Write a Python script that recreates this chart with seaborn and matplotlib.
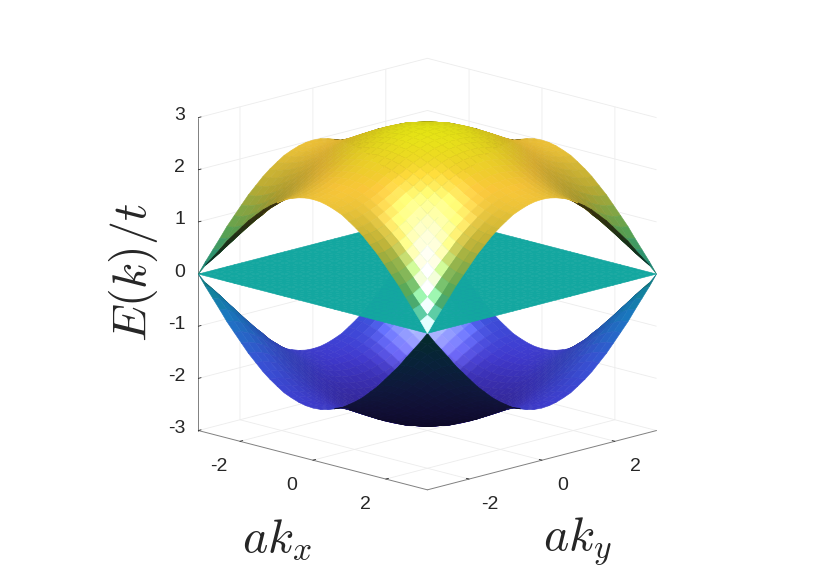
import numpy as np
import seaborn as sns
import matplotlib
matplotlib.use('Agg')
import matplotlib.pyplot as plt
from mpl_toolkits.mplot3d import proj3d

# values, one quadrant of the upper band (k from 0 to pi)
k_pos = [0.0, 0.20, 0.39, 0.59, 0.79, 0.98, 1.18, 1.37, 1.57, 1.77, 1.96, 2.16, 2.36, 2.55, 2.75, 2.95, 3.1416]
upper_quadrant = [
    [2.83, 2.82, 2.80, 2.77, 2.72, 2.67, 2.60, 2.53, 2.45, 2.37, 2.29, 2.21, 2.14, 2.08, 2.04, 2.01, 2.00],
    [2.82, 2.81, 2.79, 2.76, 2.72, 2.66, 2.59, 2.52, 2.44, 2.36, 2.28, 2.20, 2.13, 2.07, 2.03, 2.00, 1.99],
    [2.80, 2.79, 2.77, 2.74, 2.69, 2.64, 2.57, 2.50, 2.42, 2.34, 2.25, 2.18, 2.11, 2.05, 2.00, 1.97, 1.96],
    [2.77, 2.76, 2.74, 2.71, 2.66, 2.60, 2.54, 2.46, 2.38, 2.30, 2.21, 2.13, 2.06, 2.00, 1.95, 1.92, 1.91],
    [2.72, 2.72, 2.69, 2.66, 2.61, 2.55, 2.49, 2.41, 2.33, 2.24, 2.16, 2.07, 2.00, 1.94, 1.89, 1.86, 1.85],
    [2.67, 2.66, 2.64, 2.60, 2.55, 2.49, 2.42, 2.35, 2.26, 2.17, 2.08, 2.00, 1.92, 1.86, 1.81, 1.77, 1.76],
    [2.60, 2.59, 2.57, 2.54, 2.49, 2.42, 2.35, 2.27, 2.18, 2.09, 2.00, 1.91, 1.83, 1.76, 1.71, 1.67, 1.66],
    [2.53, 2.52, 2.50, 2.46, 2.41, 2.35, 2.27, 2.19, 2.10, 2.00, 1.90, 1.81, 1.73, 1.65, 1.59, 1.56, 1.55],
    [2.45, 2.44, 2.42, 2.38, 2.33, 2.26, 2.18, 2.10, 2.00, 1.90, 1.80, 1.70, 1.61, 1.53, 1.47, 1.43, 1.41],
    [2.37, 2.36, 2.34, 2.30, 2.24, 2.17, 2.09, 2.00, 1.90, 1.79, 1.69, 1.58, 1.48, 1.40, 1.33, 1.28, 1.27],
    [2.29, 2.28, 2.25, 2.21, 2.16, 2.08, 2.00, 1.90, 1.80, 1.69, 1.57, 1.46, 1.35, 1.25, 1.18, 1.13, 1.11],
    [2.21, 2.20, 2.18, 2.13, 2.07, 2.00, 1.91, 1.81, 1.70, 1.58, 1.46, 1.33, 1.21, 1.11, 1.02, 0.96, 0.94],
    [2.14, 2.13, 2.11, 2.06, 2.00, 1.92, 1.83, 1.73, 1.61, 1.48, 1.35, 1.21, 1.08, 0.96, 0.86, 0.79, 0.77],
    [2.08, 2.07, 2.05, 2.00, 1.94, 1.86, 1.76, 1.65, 1.53, 1.40, 1.25, 1.11, 0.96, 0.82, 0.70, 0.61, 0.58],
    [2.04, 2.03, 2.00, 1.95, 1.89, 1.81, 1.71, 1.59, 1.47, 1.33, 1.18, 1.02, 0.86, 0.70, 0.55, 0.44, 0.39],
    [2.01, 2.00, 1.97, 1.92, 1.86, 1.77, 1.67, 1.56, 1.43, 1.28, 1.13, 0.96, 0.79, 0.61, 0.44, 0.28, 0.20],
    [2.00, 1.99, 1.96, 1.91, 1.85, 1.76, 1.66, 1.55, 1.41, 1.27, 1.11, 0.94, 0.77, 0.58, 0.39, 0.20, 0.00],
]
flat_level = 0.0
xy_ticks = [-2, 0, 2]
z_ticks = [-3, -2, -1, 0, 1, 2, 3]
band_colors = [(0.20, 0.13, 0.55), (0.25, 0.22, 0.80), (0.24, 0.36, 0.92),
               (0.12, 0.55, 0.88), (0.07, 0.67, 0.65), (0.40, 0.74, 0.38),
               (0.80, 0.74, 0.22), (0.98, 0.78, 0.22), (0.90, 0.90, 0.08)]

sns.set_theme(style='white', rc={'font.family': ['Liberation Sans', 'DejaVu Sans'],
                                 'mathtext.fontset': 'cm', 'axes.unicode_minus': False})
cmap = sns.blend_palette(band_colors, as_cmap=True)

q = np.array(upper_quadrant)
k = np.concatenate([-np.array(k_pos[:0:-1]), k_pos])
top = np.vstack([q[:0:-1], q])
top = np.hstack([top[:, :0:-1], top])
X, Y = np.meshgrid(k, k)

ELEV, AZIM = 15, -45
view = np.array([0.683, -0.683, 0.259])
light = np.array([0.183, -0.183, 0.966])
half = np.array([0.5, -0.5, 0.707])


def shaded(Z, power, spec):
    dzdy, dzdx = np.gradient(Z, k, k)
    n = np.dstack([-dzdx, -dzdy, np.ones_like(Z)])
    n = (n[:-1, :-1] + n[1:, :-1] + n[:-1, 1:] + n[1:, 1:]) / 4
    n /= np.linalg.norm(n, axis=2, keepdims=True)
    facing = (n @ view) < 0
    n[facing] *= -1
    zc = (Z[:-1, :-1] + Z[1:, :-1] + Z[:-1, 1:] + Z[1:, 1:]) / 4
    base = cmap((zc + 2.83) / 5.66)[..., :3]
    diff = np.clip(n @ light, 0, 1)
    sp = np.clip(n @ half, 0, 1) ** power * spec
    rgb = base * (0.25 + 0.75 * diff)[..., None] + sp[..., None]
    return np.dstack([np.clip(rgb, 0, 1), np.ones_like(zc)])


fig = plt.figure(figsize=(8.3, 5.87), dpi=100)
S = 587
ax = fig.add_axes([(419.5 - S / 2) / 830, (305 - S / 2) / 587, S / 830, S / 587],
                  projection='3d', computed_zorder=False, proj_type='ortho')
ax.view_init(elev=ELEV, azim=AZIM)
ax.set_box_aspect((1, 1, 1), zoom=0.928)

low = -top
flat = np.full_like(top, flat_level)
kw = dict(rstride=1, cstride=1, shade=False, linewidth=0.4, antialiased=True)
ax.plot_surface(X, Y, low, facecolors=shaded(low, 50, 0.7), zorder=1, **kw)
ax.plot_surface(X, Y, flat, facecolors=shaded(flat, 60, 0.8), zorder=2, **kw)
ax.plot_surface(X, Y, top, facecolors=shaded(top, 60, 0.8), zorder=3, **kw)

ax.set_xlim(-np.pi, np.pi)
ax.set_ylim(-np.pi, np.pi)
ax.set_zlim(-3, 3)
ax.set_xticks(xy_ticks)
ax.set_yticks(xy_ticks)
ax.set_zticks(z_ticks)
ax.zaxis.set_ticks_position('lower')

for axis in (ax.xaxis, ax.yaxis, ax.zaxis):
    axis.set_pane_color((1, 1, 1, 1))
    axis.pane.set_edgecolor((1, 1, 1, 0))
    axis.line.set_color('#808080')
    axis.line.set_linewidth(0.7)
    axis._axinfo['grid'].update(color='#ececec', linewidth=0.6)
    axis._axinfo['tick']['inward_factor'] = 0
    axis._axinfo['tick']['outward_factor'] = 0.15
    axis._axinfo['tick']['color'] = '#808080'
    axis._axinfo['tick']['linewidth'] = {True: 0.6, False: 0.6}
    for t in axis.get_major_ticks():
        t.label1.set_va('bottom')
ax.tick_params(axis='x', labelsize=14, colors='#262626', pad=12)
ax.tick_params(axis='y', labelsize=14, colors='#262626', pad=12)

# z tick labels sit just left of the axis, slightly above their ticks
for t in ax.zaxis.get_major_ticks():
    t.label1.set_visible(False)
for z in z_ticks:
    xp, yp, _ = proj3d.proj_transform(-np.pi, -np.pi, z, ax.get_proj())
    ax.annotate(str(z), (xp, yp), xytext=(-13, 2), textcoords='offset pixels',
                fontsize=14, ha='right', va='center', color='#262626')

fig.text(277 / 830, 1 - 540 / 587, r'$ak_x$', fontsize=34.5, ha='center', va='center', color='#262626')
fig.text(577 / 830, 1 - 542 / 587, r'$ak_y$', fontsize=34.5, ha='center', va='center', color='#262626')
fig.text(133 / 830, 1 - 272 / 587, r'$E(k)/t$', fontsize=34.5, rotation=90, ha='center', va='center', color='#262626')

fig.savefig('out.png', dpi=100)
